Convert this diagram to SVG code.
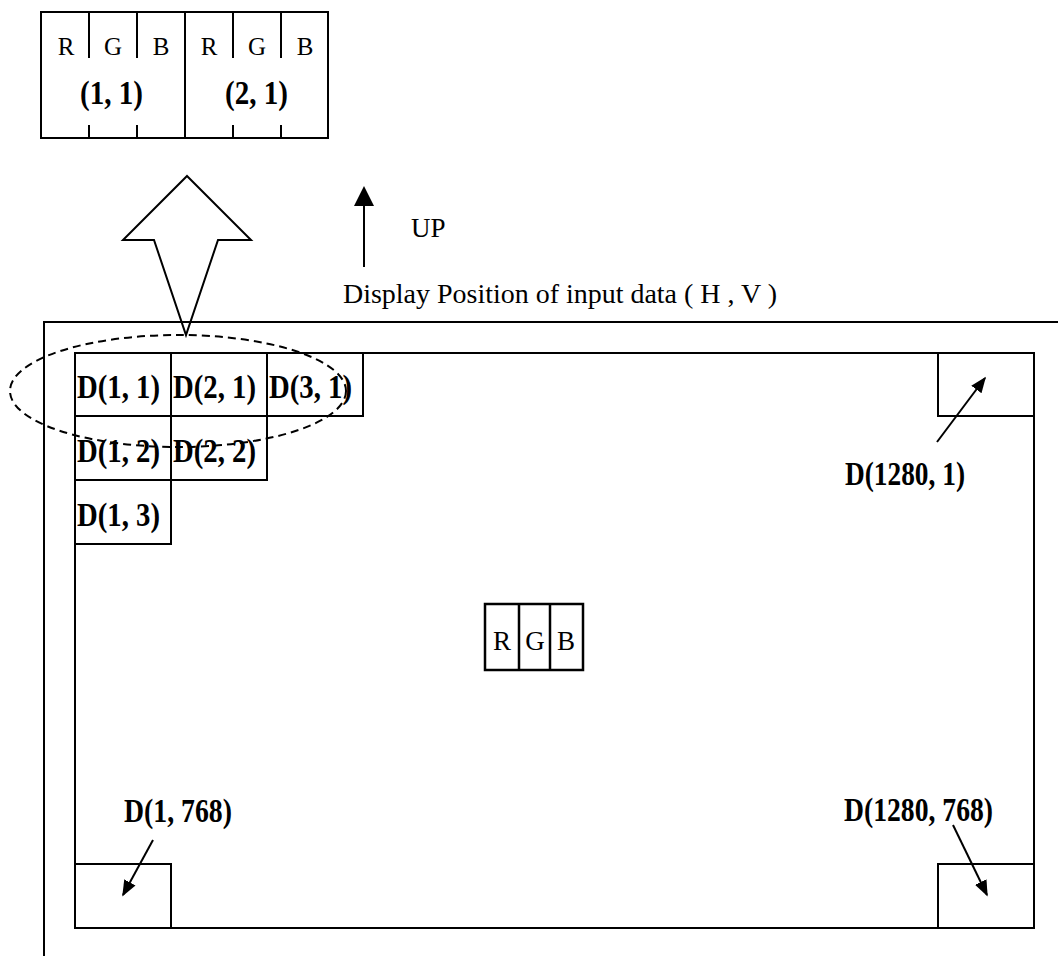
<svg xmlns="http://www.w3.org/2000/svg" width="1058" height="957" viewBox="0 0 1058 957">
<defs>
<style>
.ln{stroke:#000;stroke-width:2;fill:none}
.cell{stroke:#000;stroke-width:2;fill:none}
.t{font-family:"Liberation Serif",serif;font-size:25px;fill:#000}
.t2{font-family:"Liberation Serif",serif;font-size:27px;fill:#000}
.b{font-family:"Liberation Serif",serif;font-size:33px;font-weight:bold;fill:#000}
.arr{stroke:#000;stroke-width:2;fill:none}
</style>
<marker id="ah" viewBox="0 0 10 10" refX="9" refY="5" markerWidth="16" markerHeight="16" markerUnits="userSpaceOnUse" orient="auto">
<path d="M0,1 L10,5 L0,9 z" fill="#000"/>
</marker>
<marker id="ah2" viewBox="0 0 10 10" refX="9" refY="5" markerWidth="20" markerHeight="20" markerUnits="userSpaceOnUse" orient="auto">
<path d="M0,0 L10,5 L0,10 z" fill="#000"/>
</marker>
</defs>
<rect width="1058" height="957" fill="#fff"/>

<g id="pixel-detail">
<rect x="41" y="12" width="287" height="126" class="cell"/>
<line x1="185" y1="12" x2="185" y2="138" class="ln"/>
<path d="M89,12V58M137,12V58M233,12V58M281,12V58M89,125V138M137,125V138M233,125V138M281,125V138" class="ln"/>
<text x="66" y="55" class="t" text-anchor="middle">R</text>
<text x="113" y="55" class="t" text-anchor="middle">G</text>
<text x="161" y="55" class="t" text-anchor="middle">B</text>
<text x="209" y="55" class="t" text-anchor="middle">R</text>
<text x="257" y="55" class="t" text-anchor="middle">G</text>
<text x="305" y="55" class="t" text-anchor="middle">B</text>
<text x="80" y="104" class="b" textLength="63" lengthAdjust="spacingAndGlyphs">(1, 1)</text>
<text x="225" y="104" class="b" textLength="63" lengthAdjust="spacingAndGlyphs">(2, 1)</text>
</g>

<g id="hollow-arrow">
<polygon points="187,176 251,240 218,240 186,335 154,240 123,240" class="ln"/>
</g>

<g id="up-indicator">
<line x1="364" y1="267" x2="364" y2="188" class="arr" marker-end="url(#ah2)"/>
<text x="411" y="237" class="t2">UP</text>
</g>

<text x="343" y="303" class="t2" textLength="434" lengthAdjust="spacingAndGlyphs">Display Position of input data ( H , V )</text>

<g id="outer-frame">
<path d="M44,956V322H1058" class="ln"/>
</g>

<g id="display-area">
<rect x="75" y="353" width="959" height="575" class="ln"/>
</g>

<g id="cell-1-1"><rect x="75" y="353" width="96" height="63" class="cell"/><text x="77" y="398" class="b" textLength="83" lengthAdjust="spacingAndGlyphs">D(1, 1)</text></g>
<g id="cell-2-1"><rect x="171" y="353" width="96" height="63" class="cell"/><text x="173" y="398" class="b" textLength="83" lengthAdjust="spacingAndGlyphs">D(2, 1)</text></g>
<g id="cell-3-1"><rect x="267" y="353" width="96" height="63" class="cell"/><text x="269" y="398" class="b" textLength="83" lengthAdjust="spacingAndGlyphs">D(3, 1)</text></g>
<g id="cell-1-2"><rect x="75" y="416" width="96" height="64" class="cell"/><text x="77" y="462" class="b" textLength="83" lengthAdjust="spacingAndGlyphs">D(1, 2)</text></g>
<g id="cell-2-2"><rect x="171" y="416" width="96" height="64" class="cell"/><text x="173" y="462" class="b" textLength="83" lengthAdjust="spacingAndGlyphs">D(2, 2)</text></g>
<g id="cell-1-3"><rect x="75" y="480" width="96" height="64" class="cell"/><text x="77" y="526" class="b" textLength="83" lengthAdjust="spacingAndGlyphs">D(1, 3)</text></g>

<g id="highlight-ellipse">
<ellipse cx="178" cy="391" rx="168" ry="56" fill="none" stroke="#000" stroke-width="2" stroke-dasharray="8,5"/>
</g>

<g id="cell-1280-1"><rect x="938" y="353" width="96" height="63" class="cell"/><text x="845" y="485" class="b" textLength="120" lengthAdjust="spacingAndGlyphs">D(1280, 1)</text></g>
<g id="cell-1-768"><rect x="75" y="864" width="96" height="64" class="cell"/><text x="124" y="822" class="b" textLength="108" lengthAdjust="spacingAndGlyphs">D(1, 768)</text></g>
<g id="cell-1280-768"><rect x="938" y="864" width="96" height="64" class="cell"/><text x="844" y="821" class="b" textLength="149" lengthAdjust="spacingAndGlyphs">D(1280, 768)</text></g>

<g id="rgb-center">
<rect x="485" y="604" width="98" height="66" fill="none" stroke="#000" stroke-width="2.5"/>
<path d="M519,604V670M550,604V670" stroke="#000" stroke-width="2.5"/>
<text x="502" y="650" class="t2" text-anchor="middle">R</text>
<text x="535" y="650" class="t2" text-anchor="middle">G</text>
<text x="566" y="650" class="t2" text-anchor="middle">B</text>
</g>

<g id="connectors">
<line x1="937" y1="442" x2="985" y2="378" class="arr" stroke-width="1.5" marker-end="url(#ah)"/>
<line x1="153" y1="840" x2="123" y2="895" class="arr" stroke-width="1.5" marker-end="url(#ah)"/>
<line x1="953" y1="825" x2="987" y2="895" class="arr" stroke-width="1.5" marker-end="url(#ah)"/>
</g>
</svg>
